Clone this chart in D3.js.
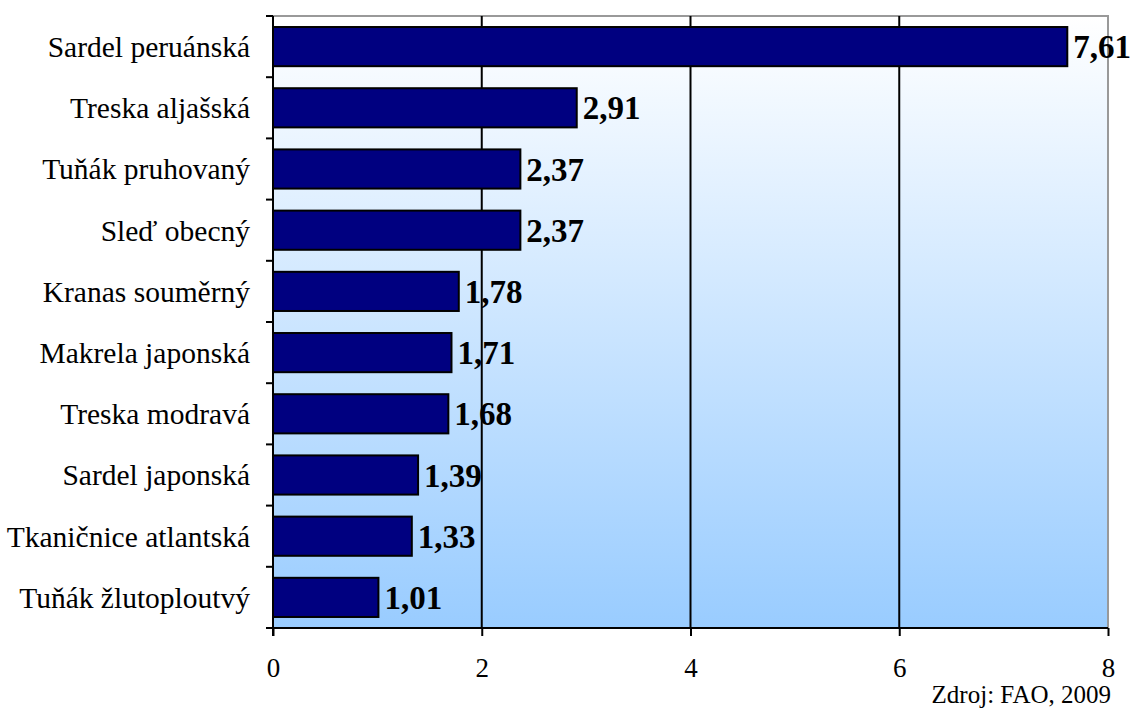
<!DOCTYPE html>
<html>
<head>
<meta charset="utf-8">
<script src="https://cdn.jsdelivr.net/npm/d3@7"></script>
<style>
  html, body { margin: 0; padding: 0; background: #fff; }
  svg { display: block; }
  svg text { font-family: "Liberation Serif", "Times New Roman", serif; }
</style>
</head>
<body>
<svg id="chart" width="1136" height="709"></svg>
<script>
// Catch of the most important fish species (mil. t)
const species = [
  "Sardel peruánská", "Treska aljašská", "Tuňák pruhovaný", "Sleď obecný",
  "Kranas souměrný", "Makrela japonská", "Treska modravá", "Sardel japonská",
  "Tkaničnice atlantská", "Tuňák žlutoploutvý"
];
const catch_mt = [7.61, 2.91, 2.37, 2.37, 1.78, 1.71, 1.68, 1.39, 1.33, 1.01];
const xTicks = [0, 2, 4, 6, 8];
const source = "Zdroj: FAO, 2009";

const FONT = "Liberation Serif, Times New Roman, serif";
const svg = d3.select("#chart");
const m = { left: 273, right: 1108, top: 16, bottom: 628 };

const x = d3.scaleLinear().domain([0, 8]).range([m.left, m.right]);
const y = d3.scaleBand().domain(species).range([m.top, m.bottom]).paddingInner(0.36).paddingOuter(0.18);
const yEdge = d3.scaleBand().domain(species).range([m.top, m.bottom]).padding(0);

const fmt = v => d3.format(".2f")(v).replace(".", ",");

// Plot background gradient
const defs = svg.append("defs");
const grad = defs.append("linearGradient").attr("id", "bg").attr("x1", 0).attr("y1", 0).attr("x2", 0).attr("y2", 1);
grad.append("stop").attr("offset", "0%").attr("stop-color", "#ffffff");
grad.append("stop").attr("offset", "100%").attr("stop-color", "#99ccff");

svg.append("rect")
  .attr("x", m.left).attr("y", m.top)
  .attr("width", m.right - m.left).attr("height", m.bottom - m.top)
  .attr("fill", "url(#bg)");

// top and right border
svg.append("path")
  .attr("d", `M${m.left},${m.top}H${m.right}V${m.bottom}`)
  .attr("fill", "none").attr("stroke", "#999").attr("stroke-width", 2);

// vertical gridlines
svg.append("g").selectAll("line")
  .data(xTicks.filter(t => t > 0 && t < 8))
  .join("line")
  .attr("x1", d => x(d)).attr("x2", d => x(d))
  .attr("y1", m.top).attr("y2", m.bottom)
  .attr("stroke", "#000").attr("stroke-width", 2);

// bars
svg.append("g").selectAll("rect")
  .data(species)
  .join("rect")
  .attr("x", x(0))
  .attr("y", d => y(d))
  .attr("width", (d, i) => x(catch_mt[i]) - x(0))
  .attr("height", y.bandwidth())
  .attr("fill", "#000080")
  .attr("stroke", "#000").attr("stroke-width", 2);

// value labels
svg.append("g").selectAll("text")
  .data(species)
  .join("text")
  .attr("x", (d, i) => x(catch_mt[i]) + 6)
  .attr("y", d => y(d) + y.bandwidth() / 2)
  .attr("dy", "0.35em")
  .attr("font-family", FONT)
  .attr("font-size", 33).attr("font-weight", "bold")
  .attr("fill", "#000")
  .text((d, i) => fmt(catch_mt[i]));

// left axis with ticks at category boundaries
const gy = svg.append("g");
gy.append("line")
  .attr("x1", m.left).attr("x2", m.left)
  .attr("y1", m.top).attr("y2", m.bottom + 8)
  .attr("stroke", "#000").attr("stroke-width", 2);
const edges = species.map(s => yEdge(s)).concat([m.bottom]);
gy.selectAll("line.tick")
  .data(edges)
  .join("line").attr("class", "tick")
  .attr("x1", m.left - 7).attr("x2", m.left)
  .attr("y1", d => d).attr("y2", d => d)
  .attr("stroke", "#000").attr("stroke-width", 2);
gy.selectAll("text")
  .data(species)
  .join("text")
  .attr("x", m.left - 23)
  .attr("y", d => y(d) + y.bandwidth() / 2)
  .attr("dy", "0.35em")
  .attr("text-anchor", "end")
  .attr("font-family", FONT)
  .attr("font-size", 29.5)
  .attr("fill", "#000")
  .text(d => d);

// bottom axis
const gx = svg.append("g").attr("transform", `translate(0,${m.bottom})`)
  .call(d3.axisBottom(x).tickValues(xTicks).tickSize(8).tickPadding(22).tickFormat(d3.format("d")));
gx.attr("font-family", FONT);
gx.select(".domain").attr("stroke", "#000").attr("stroke-width", 2).attr("d", `M${m.left - 7},0H${m.right}`);
gx.selectAll(".tick line").attr("stroke", "#000").attr("stroke-width", 2);
gx.selectAll(".tick text")
  .attr("font-family", FONT)
  .attr("font-size", 27).attr("fill", "#000");

// source note
svg.append("text")
  .attr("x", 1111).attr("y", 703)
  .attr("text-anchor", "end")
  .attr("font-family", FONT)
  .attr("font-size", 25)
  .attr("fill", "#000")
  .text(source);
</script>
</body>
</html>
